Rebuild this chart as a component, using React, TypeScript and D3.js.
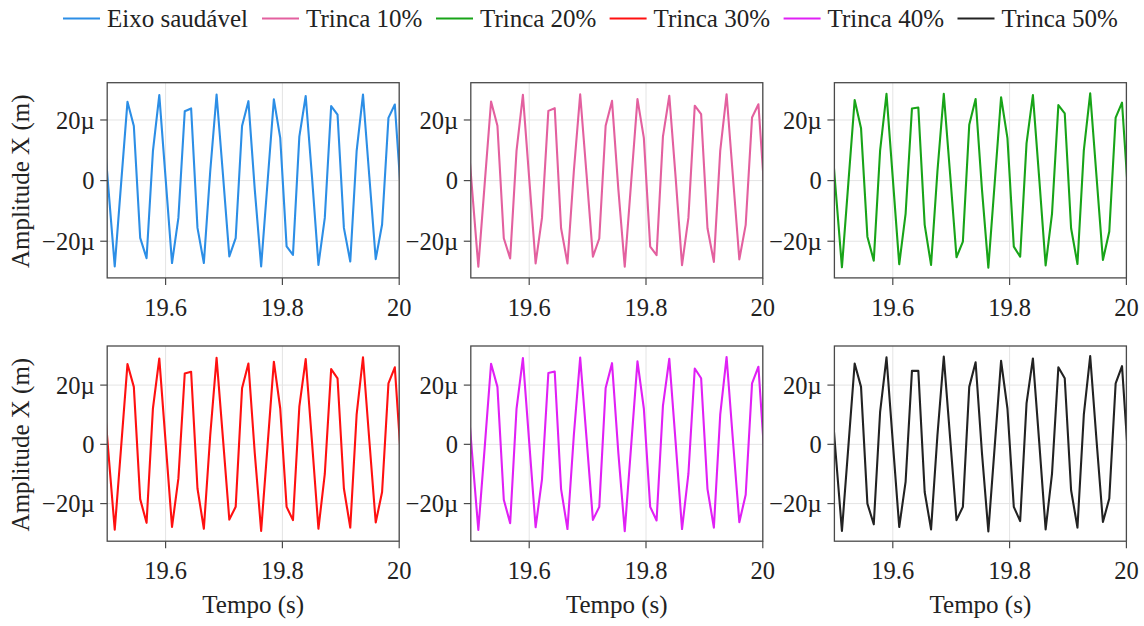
import React from "react";
import * as d3 from "d3";

// Sample instants (s), shared by every series
const TIME = [
  19.4911, 19.502, 19.5129, 19.5238, 19.5347, 19.5456, 19.5565, 19.5674, 19.5783, 19.5892,
  19.6001, 19.611, 19.6219, 19.6328, 19.6437, 19.6546, 19.6655, 19.6764, 19.6873, 19.6982,
  19.7091, 19.72, 19.7309, 19.7418, 19.7527, 19.7636, 19.7745, 19.7854, 19.7963, 19.8072,
  19.8181, 19.829, 19.8399, 19.8508, 19.8617, 19.8726, 19.8835, 19.8944, 19.9053, 19.9162,
  19.9271, 19.938, 19.9489, 19.9598, 19.9707, 19.9816, 19.9925, 20.0034,
];

// Displacement X in micrometres
const EIXO_SAUDAVEL = [
  24.0, -2.4, -28.3, -1.0, 26.0, 18.0, -18.9, -25.6, 9.7, 28.2, 0.5, -27.2, -12.3, 22.9, 23.8, -15.6,
  -27.2, 3.0, 28.4, 2.0, -25.0, -19.0, 18.0, 26.2, -3.0, -28.3, -0.7, 26.8, 14.1, -21.7, -24.5, 14.5,
  27.9, 0.9, -27.8, -12.3, 24.6, 21.8, -15.6, -26.7, 9.7, 28.4, 1.2, -25.9, -14.5, 20.7, 25.1, -5.5,
];
const TRINCA_10 = [
  24.1, -2.4, -28.4, -1.0, 26.1, 18.1, -19.0, -25.7, 9.8, 28.3, 0.5, -27.3, -12.3, 23.0, 23.9, -15.7,
  -27.3, 3.0, 28.5, 2.0, -25.1, -19.1, 18.1, 26.3, -3.0, -28.4, -0.7, 26.9, 14.1, -21.8, -24.6, 14.5,
  28.0, 0.9, -27.9, -12.3, 24.7, 21.9, -15.7, -26.8, 9.8, 28.5, 1.2, -26.0, -14.6, 20.8, 25.2, -5.5,
];
const TRINCA_20 = [
  24.3, -2.6, -28.6, -1.0, 26.6, 17.3, -18.5, -26.4, 10.0, 28.6, 0.5, -27.6, -11.0, 23.8, 24.1, -14.6,
  -27.8, 3.0, 28.6, 2.0, -25.3, -20.1, 18.4, 26.9, -3.0, -28.7, -0.7, 27.5, 14.0, -21.8, -25.1, 12.3,
  28.2, 0.5, -28.0, -11.0, 24.9, 22.2, -15.7, -27.5, 10.0, 28.8, 1.2, -26.2, -16.8, 20.8, 25.7, -5.8,
];
const TRINCA_30 = [
  24.5, -2.6, -28.8, -1.0, 27.1, 19.4, -18.5, -26.5, 12.1, 29.0, 0.5, -27.9, -11.5, 23.9, 24.5, -14.9,
  -28.5, 3.0, 29.2, 2.0, -25.4, -21.1, 18.9, 27.3, -3.0, -29.2, -0.7, 27.9, 12.1, -21.1, -25.6, 12.7,
  28.8, 0.5, -28.5, -10.0, 25.4, 22.3, -14.9, -28.1, 10.0, 29.4, 1.2, -26.4, -16.1, 20.6, 26.0, -6.0,
];
const TRINCA_40 = [
  24.6, -2.6, -28.9, -1.0, 27.2, 19.4, -18.7, -26.6, 12.0, 29.1, 0.5, -28.0, -11.8, 24.1, 24.6, -15.1,
  -28.6, 3.0, 29.3, 2.0, -25.5, -21.1, 19.0, 27.4, -3.0, -29.3, -0.7, 28.0, 12.1, -21.1, -25.7, 13.0,
  28.9, 0.5, -28.6, -10.0, 25.6, 22.3, -15.1, -28.1, 10.0, 29.5, 1.2, -26.3, -17.0, 20.6, 26.2, -6.0,
];
const TRINCA_50 = [
  24.8, -2.6, -29.2, -1.0, 27.3, 19.4, -20.0, -27.0, 11.0, 29.4, 0.5, -27.9, -12.7, 24.8, 24.8, -16.1,
  -28.7, 3.0, 29.6, 2.0, -25.6, -21.1, 19.4, 27.7, -3.0, -29.4, -0.7, 28.2, 12.1, -21.1, -25.9, 13.8,
  29.0, 0.5, -28.7, -10.0, 26.0, 22.3, -15.5, -28.1, 10.0, 29.8, 1.2, -26.2, -18.3, 20.6, 26.4, -6.0,
];

const SERIES_NAMES = ["Eixo saudável", "Trinca 10%", "Trinca 20%", "Trinca 30%", "Trinca 40%", "Trinca 50%"];
const SERIES_VALUES = [EIXO_SAUDAVEL, TRINCA_10, TRINCA_20, TRINCA_30, TRINCA_40, TRINCA_50];
const SERIES_COLORS = ["#2c8ee6", "#e3609f", "#18a418", "#ff1010", "#e020f5", "#222222"];

const X_TICKS = [19.6, 19.8, 20];
const X_TICK_LABELS = ["19.6", "19.8", "20"];
const Y_TICKS = [-20, 0, 20];
const Y_TICK_LABELS = ["\u221220\u00b5", "0", "20\u00b5"];
const X_DOMAIN = [19.5, 20];
const Y_DOMAIN_ROWS = [
  [-32.1, 32.3],
  [-32.7, 33.2],
];

// layout
const W = 1144;
const H = 626;
const COL_LEFT = [107.2, 470.8, 834.4];
const PLOT_W = 292;
const ROW_TOP = [82.7, 346];
const PLOT_H = 195.2;
const LEGEND_X = [63, 262, 436, 609.6, 783.6, 957.5];
const LEGEND_Y = 18.5;
const FONT = "'Liberation Serif', 'Times New Roman', serif";
const TEXT = "#222";
const FRAME = "#4a4a4a";
const GRID = "#e4e4e4";

function Panel({ idx }: { idx: number }) {
  const row = Math.floor(idx / 3);
  const col = idx % 3;
  const left = COL_LEFT[col];
  const top = ROW_TOP[row];
  const x = d3.scaleLinear().domain(X_DOMAIN).range([left, left + PLOT_W]);
  const y = d3.scaleLinear().domain(Y_DOMAIN_ROWS[row]).range([top + PLOT_H, top]);
  const values = SERIES_VALUES[idx];
  const line = d3
    .line<number>()
    .x((_, i) => x(TIME[i]))
    .y((v) => y(v));
  const clipId = `clip-${idx}`;
  const bottom = top + PLOT_H;
  return (
    <g>
      <defs>
        <clipPath id={clipId}>
          <rect x={left} y={top} width={PLOT_W} height={PLOT_H} />
        </clipPath>
      </defs>
      {X_TICKS.map((t) => (
        <line key={`gx${t}`} x1={x(t)} x2={x(t)} y1={top} y2={bottom} stroke={GRID} strokeWidth={1} />
      ))}
      {Y_TICKS.map((t) => (
        <line key={`gy${t}`} x1={left} x2={left + PLOT_W} y1={y(t)} y2={y(t)} stroke={GRID} strokeWidth={1} />
      ))}
      <path
        d={line(values) || ""}
        fill="none"
        stroke={SERIES_COLORS[idx]}
        strokeWidth={2.1}
        strokeLinejoin="round"
        clipPath={`url(#${clipId})`}
      />
      <rect x={left} y={top} width={PLOT_W} height={PLOT_H} fill="none" stroke={FRAME} strokeWidth={1.3} />
      {X_TICKS.map((t, i) => (
        <g key={`tx${t}`}>
          <line x1={x(t)} x2={x(t)} y1={bottom} y2={bottom + 7} stroke={FRAME} strokeWidth={1.2} />
          <text x={x(t)} y={bottom + 38} textAnchor="middle" fontSize={24.5} fill={TEXT} fontFamily={FONT}>
            {X_TICK_LABELS[i]}
          </text>
        </g>
      ))}
      {Y_TICKS.map((t, i) => (
        <g key={`ty${t}`}>
          <line x1={left - 7} x2={left} y1={y(t)} y2={y(t)} stroke={FRAME} strokeWidth={1.2} />
          <text x={left - 12.7} y={y(t) + 8.7} textAnchor="end" fontSize={24.5} fill={TEXT} fontFamily={FONT}>
            {Y_TICK_LABELS[i]}
          </text>
        </g>
      ))}
      {col === 0 && (
        <text
          transform={`translate(28.8, ${top + PLOT_H / 2 + 1}) rotate(-90)`}
          textAnchor="middle"
          fontSize={25}
          fill={TEXT}
          fontFamily={FONT}
        >
          Amplitude X (m)
        </text>
      )}
      {row === 1 && (
        <text x={left + PLOT_W / 2} y={613} textAnchor="middle" fontSize={25} fill={TEXT} fontFamily={FONT}>
          Tempo (s)
        </text>
      )}
    </g>
  );
}

export default function App() {
  return (
    <div style={{ position: "fixed", left: 0, top: 0, width: W, height: H, background: "#fff" }}>
      <svg width={W} height={H} viewBox={`0 0 ${W} ${H}`} style={{ display: "block" }}>
        <rect x={0} y={0} width={W} height={H} fill="#fff" />
        {SERIES_NAMES.map((name, i) => (
          <g key={name}>
            <line
              x1={LEGEND_X[i]}
              x2={LEGEND_X[i] + 37}
              y1={LEGEND_Y}
              y2={LEGEND_Y}
              stroke={SERIES_COLORS[i]}
              strokeWidth={2}
            />
            <text x={LEGEND_X[i] + 44} y={LEGEND_Y + 8.6} fontSize={25} fill={TEXT} fontFamily={FONT}>
              {name}
            </text>
          </g>
        ))}
        {SERIES_VALUES.map((_, i) => (
          <Panel key={i} idx={i} />
        ))}
      </svg>
    </div>
  );
}
